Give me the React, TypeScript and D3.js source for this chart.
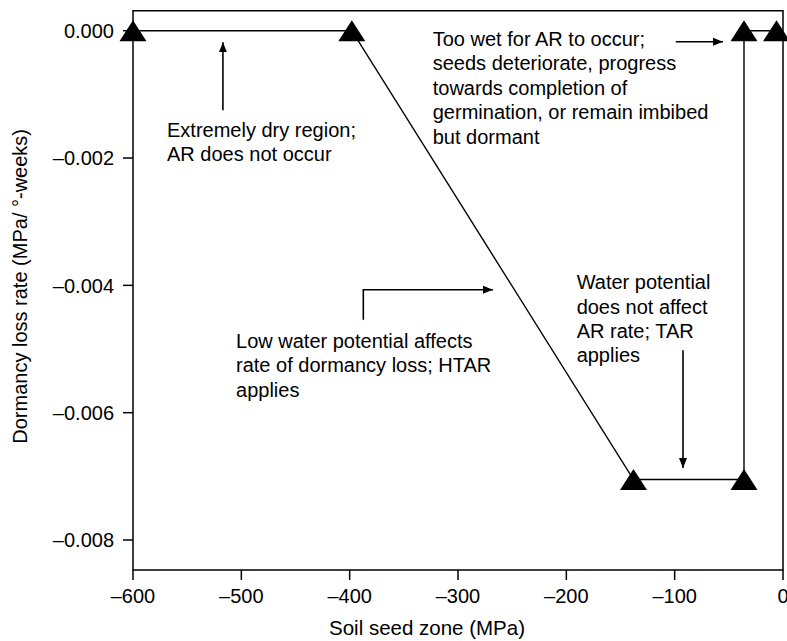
import React, { useRef, useEffect } from 'react'
import * as d3 from 'd3'

// soil water potential (MPa) vs dormancy loss rate
const psiValues = [-600, -398, -138, -36, -36, -6]
const rateValues = [0, 0, -0.00705, -0.00705, 0, 0]
const xTicks = [-600, -500, -400, -300, -200, -100, 0]
const yTicks = [0, -0.002, -0.004, -0.006, -0.008]
const xTickLabels = ['\u2013600', '\u2013500', '\u2013400', '\u2013300', '\u2013200', '\u2013100', '0']
const yTickLabels = ['0.000', '\u20130.002', '\u20130.004', '\u20130.006', '\u20130.008']

const dryText = ['Extremely dry region;', 'AR does not occur']
const wetText = ['Too wet for AR to occur;', 'seeds deteriorate, progress', 'towards completion of', 'germination, or remain imbibed', 'but dormant']
const tarText = ['Water potential', 'does not affect', 'AR rate; TAR', 'applies']
const htarText = ['Low water potential affects', 'rate of dormancy loss; HTAR', 'applies']

const FONT = '"Liberation Sans", Arial, Helvetica, sans-serif'

const App = () => {
    const visEl = useRef(null)
    const width = 787
    const height = 641

    useEffect(() => {
        const root = d3.select(visEl.current)
        root.selectAll('*').remove()
        const svg = root.append('svg')
            .attr('width', width)
            .attr('height', height)
            .style('position', 'absolute')
            .style('left', 0)
            .style('top', 0)
            .style('font-family', FONT)

        const left = 133, right = 783, top = 10.7, bottom = 570

        const x = d3.scaleLinear().domain([-600, 0]).range([left, right])
        const y = d3.scaleLinear().domain([-0.008, 0]).range([540, 30.7])

        svg.append('defs').append('marker')
            .attr('id', 'arrowhead')
            .attr('viewBox', '0 0 10 10')
            .attr('refX', 10).attr('refY', 5)
            .attr('markerWidth', 10).attr('markerHeight', 10)
            .attr('markerUnits', 'userSpaceOnUse')
            .attr('orient', 'auto')
            .append('path')
            .attr('d', 'M0,1 L10,5 L0,9 Z')
            .attr('fill', '#000')

        // frame (left, top, right, bottom)
        svg.append('path')
            .attr('d', `M${left},${bottom} L${left},${top} L${right},${top} L${right},${bottom} Z`)
            .attr('fill', 'none')
            .attr('stroke', '#000')
            .attr('stroke-width', 1.5)

        // x axis ticks
        const xg = svg.append('g')
        xTicks.forEach((t, i) => {
            xg.append('line')
                .attr('x1', x(t)).attr('x2', x(t))
                .attr('y1', bottom).attr('y2', bottom + 10)
                .attr('stroke', '#000').attr('stroke-width', 1.5)
            xg.append('text')
                .attr('x', x(t)).attr('y', bottom + 33)
                .attr('text-anchor', 'middle')
                .attr('font-size', 20)
                .text(xTickLabels[i])
        })

        // y axis ticks
        const yg = svg.append('g')
        yTicks.forEach((t, i) => {
            yg.append('line')
                .attr('x1', left - 10).attr('x2', left)
                .attr('y1', y(t)).attr('y2', y(t))
                .attr('stroke', '#000').attr('stroke-width', 1.5)
            yg.append('text')
                .attr('x', left - 19).attr('y', y(t))
                .attr('dy', '0.36em')
                .attr('text-anchor', 'end')
                .attr('font-size', 20)
                .text(yTickLabels[i])
        })

        svg.append('text')
            .attr('x', 427).attr('y', 635)
            .attr('text-anchor', 'middle')
            .attr('font-size', 20.5)
            .text('Soil seed zone (MPa)')

        svg.append('text')
            .attr('transform', `translate(27,${(top + bottom) / 2 - 4}) rotate(-90)`)
            .attr('text-anchor', 'middle')
            .attr('font-size', 20)
            .text('Dormancy loss rate (MPa/ \u00B0-weeks)')

        const pts = psiValues.map((v, i) => [v, rateValues[i]])

        const lineGenerator = d3.line()
            .x(d => x(d[0]))
            .y(d => y(d[1]))
        svg.append('path')
            .attr('d', lineGenerator(pts))
            .attr('fill', 'none')
            .attr('stroke', '#000')
            .attr('stroke-width', 1.4)

        svg.append('g').selectAll('path')
            .data(pts)
            .join('path')
            .attr('transform', d => `translate(${x(d[0])},${y(d[1])})`)
            .attr('d', 'M0,-10.5 L13.5,10.5 L-13.5,10.5 Z')
            .attr('fill', '#000')

        const arrow = (pathD) => svg.append('path')
            .attr('d', pathD)
            .attr('fill', 'none')
            .attr('stroke', '#000')
            .attr('stroke-width', 1.6)
            .attr('marker-end', 'url(#arrowhead)')

        // annotation arrows
        arrow(`M${x(-517)},${y(-0.00125)} L${x(-517)},${y(-0.00018)}`)
        arrow(`M${x(-99)},${y(-0.000173)} L${x(-55.4)},${y(-0.000173)}`)
        arrow(`M${x(-92.3)},${y(-0.00502)} L${x(-92.3)},${y(-0.00687)}`)
        arrow(`M${x(-387.4)},${y(-0.00454)} L${x(-387.4)},${y(-0.00407)} L${x(-267.7)},${y(-0.00407)}`)

        const block = (lines, vx, vy) => {
            const t = svg.append('text')
                .attr('x', x(vx)).attr('y', y(vy))
                .attr('font-size', 20)
            lines.forEach((s, i) => {
                t.append('tspan')
                    .attr('x', x(vx))
                    .attr('dy', i === 0 ? 0 : 24.4)
                    .text(s)
            })
        }

        block(dryText, -568.6, -0.00167)
        block(wetText, -323.3, -0.00024)
        block(tarText, -190.5, -0.00406)
        block(htarText, -504.9, -0.00498)
    })

    return (
        <div>
            <div ref={visEl}></div>
        </div>
    )
}

export default App
